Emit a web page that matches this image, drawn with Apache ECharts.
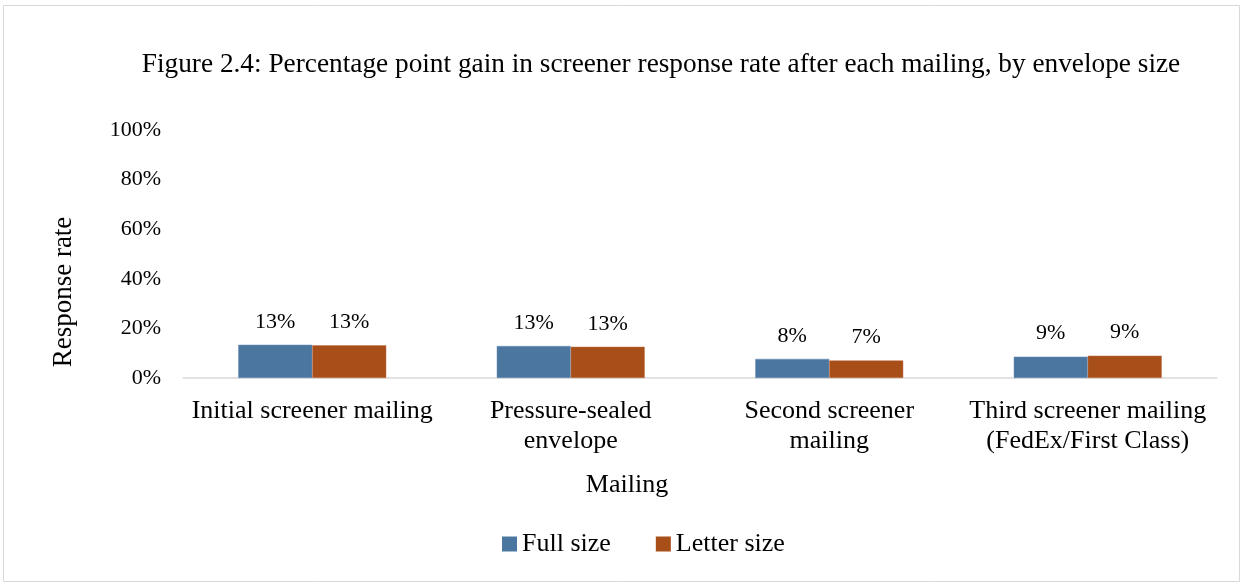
<!DOCTYPE html>
<html>
<head>
<meta charset="utf-8">
<script src="https://cdn.jsdelivr.net/npm/echarts@6/dist/echarts.min.js"></script>
<style>
  html, body { margin: 0; padding: 0; background: #fff; }
  #chart1 { width: 1244px; height: 586px; }
</style>
</head>
<body>
<div id="chart1"></div>
<script>
var categories = ['Initial screener mailing', 'Pressure-sealed\nenvelope', 'Second screener\nmailing', 'Third screener mailing\n(FedEx/First Class)'];
var fullSize = [13.4, 12.9, 7.7, 8.6];
var letterSize = [13.2, 12.6, 7.1, 9.0];
var yTicks = [0, 20, 40, 60, 80, 100];

var chartDom = document.getElementById('chart1');
var myChart = echarts.init(chartDom);
var option;
var serif = '"Liberation Serif", "DejaVu Serif", serif';

option = {
  backgroundColor: '#fff',
  textStyle: { fontFamily: serif, color: '#000' },
  title: {
    text: 'Figure 2.4: Percentage point gain in screener response rate after each mailing, by envelope size',
    left: 656,
    textAlign: 'center',
    top: 46,
    textStyle: { fontFamily: serif, fontSize: 27.3, fontWeight: 'normal', color: '#000' }
  },
  graphic: [
    {
      type: 'rect',
      shape: { x: 3.5, y: 5.5, width: 1236, height: 576 },
      style: { fill: 'none', stroke: '#d9d9d9', lineWidth: 1 },
      silent: true
    },
    {
      // axis titles sit off-centre in the original
      type: 'text',
      x: 627, y: 485,
      style: { text: 'Mailing', font: '26px ' + serif, fill: '#000', align: 'center', verticalAlign: 'middle' }
    },
    {
      type: 'text',
      x: 64, y: 292,
      rotation: Math.PI / 2,
      style: { text: 'Response rate', font: '27px ' + serif, fill: '#000', align: 'center', verticalAlign: 'middle' }
    }
  ],
  legend: {
    bottom: 24,
    left: 497,
    itemWidth: 15,
    itemHeight: 15,
    itemGap: 45,
    icon: 'rect',
    itemStyle: { borderWidth: 0 },
    textStyle: { fontFamily: serif, fontSize: 26, color: '#000' },
    data: ['Full size', 'Letter size']
  },
  grid: { left: 183, right: 27, top: 130, bottom: 208 },
  xAxis: {
    type: 'category',
    data: categories,
    axisLine: { lineStyle: { color: '#d9d9d9', width: 1.5 } },
    axisTick: { show: false },
    axisLabel: { fontFamily: serif, fontSize: 26, color: '#000', lineHeight: 30, margin: 18, interval: 0 }
  },
  yAxis: {
    type: 'value',
    min: yTicks[0],
    max: yTicks[yTicks.length - 1],
    interval: 20,
    axisLine: { show: false },
    axisTick: { show: false },
    splitLine: { show: false },
    axisLabel: { fontFamily: serif, fontSize: 22, color: '#000', margin: 22, formatter: '{value}%' }
  },
  series: [
    {
      name: 'Full size',
      type: 'bar',
      data: fullSize,
      barWidth: 74,
      barGap: '0%',
      itemStyle: { color: '#4a76a0', borderColor: '#6d91b6', borderWidth: 0.5 },
      label: { show: true, position: 'top', distance: 12, fontFamily: serif, fontSize: 22, color: '#000',
        formatter: function (p) { return Math.round(p.value) + '%'; } }
    },
    {
      name: 'Letter size',
      type: 'bar',
      data: letterSize,
      barWidth: 74,
      itemStyle: { color: '#a84e18', borderColor: '#c27650', borderWidth: 0.5 },
      label: { show: true, position: 'top', distance: 12, fontFamily: serif, fontSize: 22, color: '#000',
        formatter: function (p) { return Math.round(p.value) + '%'; } }
    }
  ]
};

option && myChart.setOption(option);
</script>
</body>
</html>
